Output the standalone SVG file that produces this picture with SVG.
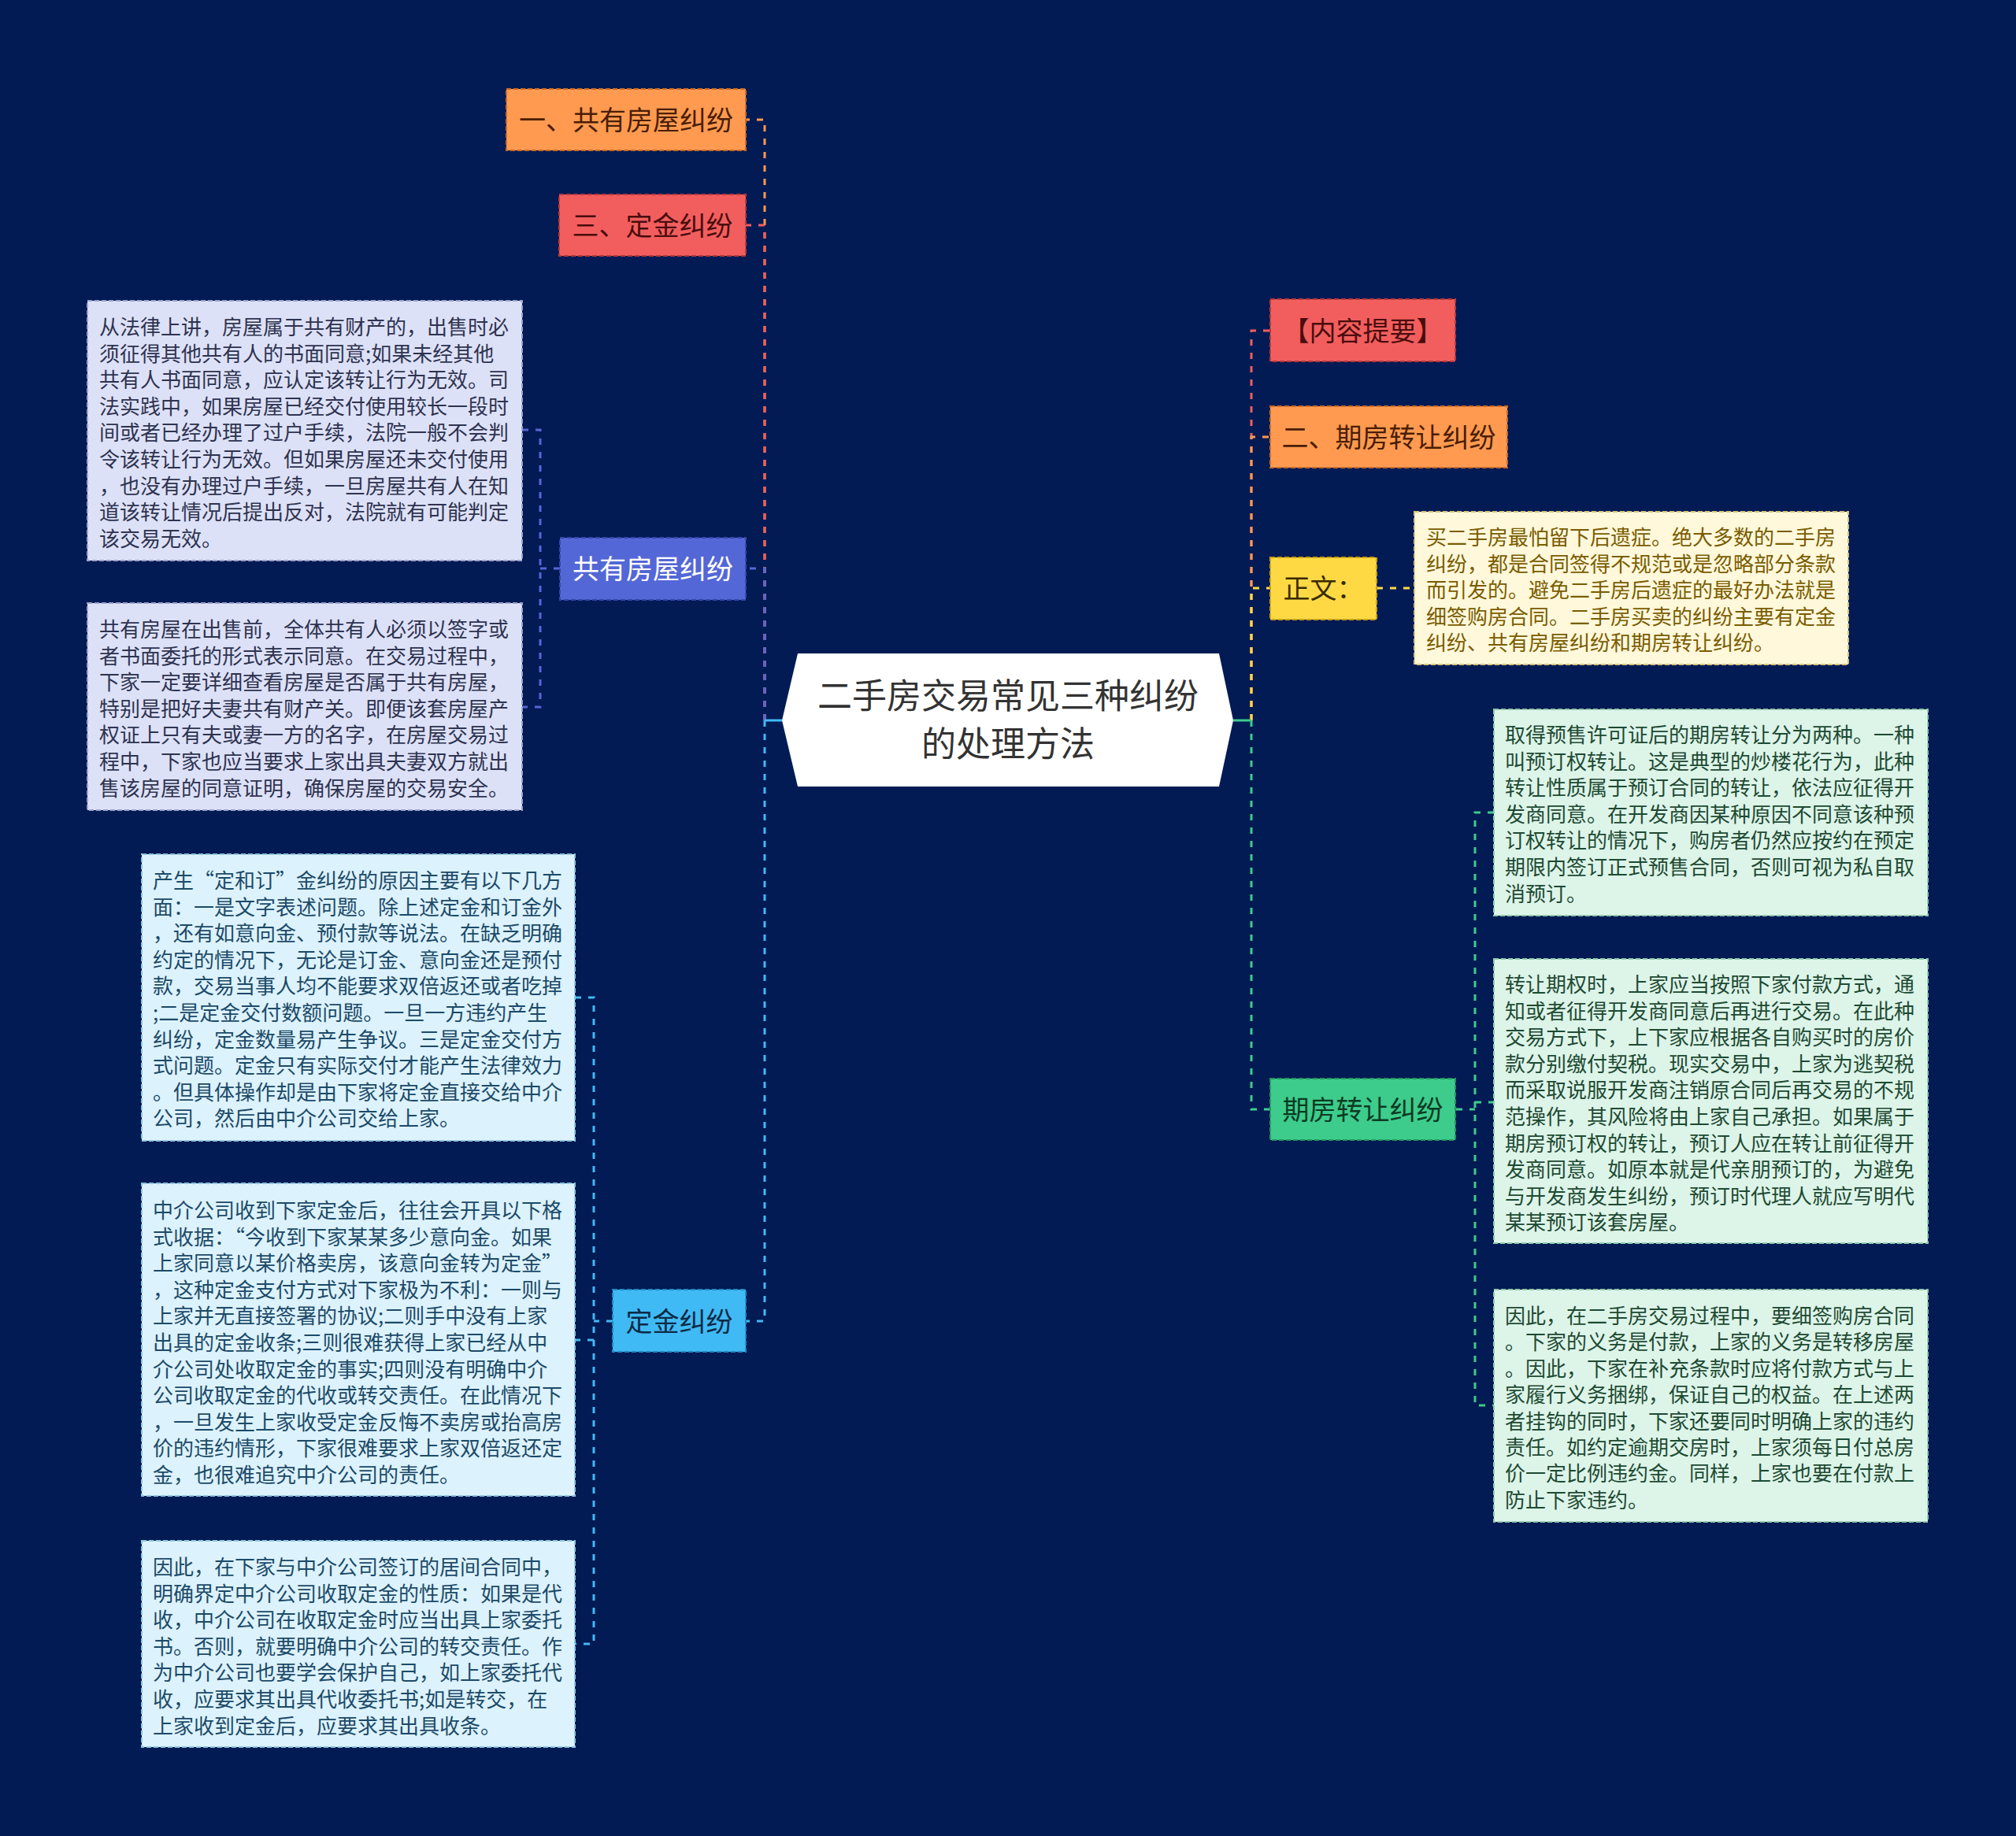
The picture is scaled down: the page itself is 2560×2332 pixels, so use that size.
<svg xmlns="http://www.w3.org/2000/svg" width="2560" height="2332" viewBox="0 0 2560 2332">
<style>
.bg{fill:#021B54}
.lbl{font-family:"Noto Sans CJK SC","Noto Sans",sans-serif;font-size:34px;text-anchor:middle}
.leaf{font-family:"Noto Sans CJK SC","Noto Sans",sans-serif;font-size:26px}
.root{font-family:"Noto Sans CJK SC","Noto Sans",sans-serif;font-size:44px;text-anchor:middle;fill:#333333}
.box{stroke-width:2;stroke-dasharray:6 3}
.c{fill:none;stroke-width:3;stroke-dasharray:8 9}
</style>
<rect class="bg" x="0" y="0" width="2560" height="2332"/>

<g id="connectors">
  <path class="c" d="M971,915 V152 H947" stroke="#FF9A50"/>
  <path class="c" d="M971,915 V286 H947" stroke="#F25E5E"/>
  <path class="c" d="M971,915 V722 H947" stroke="#5467D6"/>
  <path class="c" d="M971,915 V1678 H947" stroke="#40BAF5"/>
  <path d="M993,915 H971" stroke="#40BAF5" stroke-width="3" fill="none"/>
  <path class="c" d="M1589,915 V420 H1613" stroke="#F25E5E"/>
  <path class="c" d="M1589,915 V555 H1613" stroke="#FF9A50"/>
  <path class="c" d="M1589,915 V747 H1613" stroke="#FFD944"/>
  <path class="c" d="M1589,915 V1409 H1613" stroke="#3DCC8C"/>
  <path d="M1566,915 H1589" stroke="#3DCC8C" stroke-width="3" fill="none"/>
  <path class="c" d="M711,722 H686 M663,546 H686 V898 H663" stroke="#5467D6" stroke-width="2"/>
  <path class="c" d="M778,1678 H754 M730,1267 H754 V2088 H730 M754,1702 H730" stroke="#40BAF5" stroke-width="2"/>
  <path class="c" d="M1748,747 H1796" stroke="#FFD944" stroke-width="2"/>
  <path class="c" d="M1849,1409 H1873 M1897,1032 H1873 V1785 H1897 M1873,1400 H1897" stroke="#3DCC8C" stroke-width="2"/>
</g>

<g id="root">
  <polygon points="1013,830 1548,830 1566,915 1548,999 1013,999 993,915" fill="#FFFFFF"/>
  <text class="root"><tspan x="1280" y="900">二手房交易常见三种纠纷</tspan><tspan x="1280" y="961">的处理方法</tspan></text>
</g>

<g id="n-yi">
  <rect class="box" x="643" y="113" width="304" height="78" fill="#FF9A50" stroke="#C86A28"/>
  <text class="lbl" x="795" y="165" fill="#4A1E05">一、共有房屋纠纷</text>
</g>
<g id="n-san">
  <rect class="box" x="710" y="247" width="237" height="78" fill="#F25E5E" stroke="#B83838"/>
  <text class="lbl" x="828.5" y="299" fill="#4A0D0D">三、定金纠纷</text>
</g>
<g id="n-gongyou">
  <rect class="box" x="711" y="683" width="236" height="79" fill="#5467D6" stroke="#3546A8"/>
  <text class="lbl" x="829" y="735" fill="#FFFFFF">共有房屋纠纷</text>
</g>
<g id="n-dingjin">
  <rect class="box" x="778" y="1638" width="169" height="79" fill="#40BAF5" stroke="#2288C0"/>
  <text class="lbl" x="862.5" y="1691" fill="#0D2A45">定金纠纷</text>
</g>
<g id="n-tiyao">
  <rect class="box" x="1613" y="380" width="235" height="79" fill="#F25E5E" stroke="#B83838"/>
  <text class="lbl" x="1730.5" y="433" fill="#4A0D0D">【内容提要】</text>
</g>
<g id="n-er">
  <rect class="box" x="1613" y="516" width="301" height="78" fill="#FF9A50" stroke="#C86A28"/>
  <text class="lbl" x="1763.5" y="568" fill="#4A1E05">二、期房转让纠纷</text>
</g>
<g id="n-zhengwen">
  <rect class="box" x="1613" y="708" width="135" height="79" fill="#FFD944" stroke="#C8A010"/>
  <text class="lbl" x="1680.5" y="760" fill="#3A2C00">正文：</text>
</g>
<g id="n-qifang">
  <rect class="box" x="1613" y="1370" width="235" height="78" fill="#3DCC8C" stroke="#22985E"/>
  <text class="lbl" x="1730.5" y="1422" fill="#0B3A22">期房转让纠纷</text>
</g>

<g id="leaf-gy1">
  <rect class="box" x="111" y="382" width="552" height="330" fill="#DDE1F7" stroke="#9AA2CC"/>
  <text class="leaf" fill="#2E3350">
    <tspan x="126" y="425">从法律上讲，房屋属于共有财产的，出售时必</tspan>
    <tspan x="126" y="458.6">须征得其他共有人的书面同意;如果未经其他</tspan>
    <tspan x="126" y="492.2">共有人书面同意，应认定该转让行为无效。司</tspan>
    <tspan x="126" y="525.8">法实践中，如果房屋已经交付使用较长一段时</tspan>
    <tspan x="126" y="559.4">间或者已经办理了过户手续，法院一般不会判</tspan>
    <tspan x="126" y="593">令该转让行为无效。但如果房屋还未交付使用</tspan>
    <tspan x="126" y="626.6">，也没有办理过户手续，一旦房屋共有人在知</tspan>
    <tspan x="126" y="660.2">道该转让情况后提出反对，法院就有可能判定</tspan>
    <tspan x="126" y="693.8">该交易无效。</tspan>
  </text>
</g>
<g id="leaf-gy2">
  <rect class="box" x="111" y="766" width="552" height="263" fill="#DDE1F7" stroke="#9AA2CC"/>
  <text class="leaf" fill="#2E3350">
    <tspan x="126" y="809">共有房屋在出售前，全体共有人必须以签字或</tspan>
    <tspan x="126" y="842.6">者书面委托的形式表示同意。在交易过程中，</tspan>
    <tspan x="126" y="876.2">下家一定要详细查看房屋是否属于共有房屋，</tspan>
    <tspan x="126" y="909.8">特别是把好夫妻共有财产关。即便该套房屋产</tspan>
    <tspan x="126" y="943.4">权证上只有夫或妻一方的名字，在房屋交易过</tspan>
    <tspan x="126" y="977">程中，下家也应当要求上家出具夫妻双方就出</tspan>
    <tspan x="126" y="1010.6">售该房屋的同意证明，确保房屋的交易安全。</tspan>
  </text>
</g>

<g id="leaf-dj1">
  <rect class="box" x="180" y="1085" width="550" height="364" fill="#DCF2FC" stroke="#8EC4DE"/>
  <text class="leaf" fill="#1C4A68">
    <tspan x="194" y="1128">产生“定和订”金纠纷的原因主要有以下几方</tspan>
    <tspan x="194" y="1161.6">面：一是文字表述问题。除上述定金和订金外</tspan>
    <tspan x="194" y="1195.2">，还有如意向金、预付款等说法。在缺乏明确</tspan>
    <tspan x="194" y="1228.8">约定的情况下，无论是订金、意向金还是预付</tspan>
    <tspan x="194" y="1262.4">款，交易当事人均不能要求双倍返还或者吃掉</tspan>
    <tspan x="194" y="1296">;二是定金交付数额问题。一旦一方违约产生</tspan>
    <tspan x="194" y="1329.6">纠纷，定金数量易产生争议。三是定金交付方</tspan>
    <tspan x="194" y="1363.2">式问题。定金只有实际交付才能产生法律效力</tspan>
    <tspan x="194" y="1396.8">。但具体操作却是由下家将定金直接交给中介</tspan>
    <tspan x="194" y="1430.4">公司，然后由中介公司交给上家。</tspan>
  </text>
</g>
<g id="leaf-dj2">
  <rect class="box" x="180" y="1503" width="550" height="397" fill="#DCF2FC" stroke="#8EC4DE"/>
  <text class="leaf" fill="#1C4A68">
    <tspan x="194" y="1547">中介公司收到下家定金后，往往会开具以下格</tspan>
    <tspan x="194" y="1580.6">式收据：“今收到下家某某多少意向金。如果</tspan>
    <tspan x="194" y="1614.2">上家同意以某价格卖房，该意向金转为定金”</tspan>
    <tspan x="194" y="1647.8">，这种定金支付方式对下家极为不利：一则与</tspan>
    <tspan x="194" y="1681.4">上家并无直接签署的协议;二则手中没有上家</tspan>
    <tspan x="194" y="1715">出具的定金收条;三则很难获得上家已经从中</tspan>
    <tspan x="194" y="1748.6">介公司处收取定金的事实;四则没有明确中介</tspan>
    <tspan x="194" y="1782.2">公司收取定金的代收或转交责任。在此情况下</tspan>
    <tspan x="194" y="1815.8">，一旦发生上家收受定金反悔不卖房或抬高房</tspan>
    <tspan x="194" y="1849.4">价的违约情形，下家很难要求上家双倍返还定</tspan>
    <tspan x="194" y="1883">金，也很难追究中介公司的责任。</tspan>
  </text>
</g>
<g id="leaf-dj3">
  <rect class="box" x="180" y="1957" width="550" height="262" fill="#DCF2FC" stroke="#8EC4DE"/>
  <text class="leaf" fill="#1C4A68">
    <tspan x="194" y="2000">因此，在下家与中介公司签订的居间合同中，</tspan>
    <tspan x="194" y="2033.6">明确界定中介公司收取定金的性质：如果是代</tspan>
    <tspan x="194" y="2067.2">收，中介公司在收取定金时应当出具上家委托</tspan>
    <tspan x="194" y="2100.8">书。否则，就要明确中介公司的转交责任。作</tspan>
    <tspan x="194" y="2134.4">为中介公司也要学会保护自己，如上家委托代</tspan>
    <tspan x="194" y="2168">收，应要求其出具代收委托书;如是转交，在</tspan>
    <tspan x="194" y="2201.6">上家收到定金后，应要求其出具收条。</tspan>
  </text>
</g>

<g id="leaf-zw">
  <rect class="box" x="1796" y="650" width="551" height="194" fill="#FFF8DB" stroke="#D8C27A"/>
  <text class="leaf" fill="#7A5C00">
    <tspan x="1811" y="692">买二手房最怕留下后遗症。绝大多数的二手房</tspan>
    <tspan x="1811" y="725.6">纠纷，都是合同签得不规范或是忽略部分条款</tspan>
    <tspan x="1811" y="759.2">而引发的。避免二手房后遗症的最好办法就是</tspan>
    <tspan x="1811" y="792.8">细签购房合同。二手房买卖的纠纷主要有定金</tspan>
    <tspan x="1811" y="826.4">纠纷、共有房屋纠纷和期房转让纠纷。</tspan>
  </text>
</g>

<g id="leaf-qf1">
  <rect class="box" x="1897" y="901" width="551" height="262" fill="#DDF4E9" stroke="#8CCBAA"/>
  <text class="leaf" fill="#1D4A32">
    <tspan x="1911" y="943">取得预售许可证后的期房转让分为两种。一种</tspan>
    <tspan x="1911" y="976.6">叫预订权转让。这是典型的炒楼花行为，此种</tspan>
    <tspan x="1911" y="1010.2">转让性质属于预订合同的转让，依法应征得开</tspan>
    <tspan x="1911" y="1043.8">发商同意。在开发商因某种原因不同意该种预</tspan>
    <tspan x="1911" y="1077.4">订权转让的情况下，购房者仍然应按约在预定</tspan>
    <tspan x="1911" y="1111">期限内签订正式预售合同，否则可视为私自取</tspan>
    <tspan x="1911" y="1144.6">消预订。</tspan>
  </text>
</g>
<g id="leaf-qf2">
  <rect class="box" x="1897" y="1218" width="551" height="361" fill="#DDF4E9" stroke="#8CCBAA"/>
  <text class="leaf" fill="#1D4A32">
    <tspan x="1911" y="1260">转让期权时，上家应当按照下家付款方式，通</tspan>
    <tspan x="1911" y="1293.6">知或者征得开发商同意后再进行交易。在此种</tspan>
    <tspan x="1911" y="1327.2">交易方式下，上下家应根据各自购买时的房价</tspan>
    <tspan x="1911" y="1360.8">款分别缴付契税。现实交易中，上家为逃契税</tspan>
    <tspan x="1911" y="1394.4">而采取说服开发商注销原合同后再交易的不规</tspan>
    <tspan x="1911" y="1428">范操作，其风险将由上家自己承担。如果属于</tspan>
    <tspan x="1911" y="1461.6">期房预订权的转让，预订人应在转让前征得开</tspan>
    <tspan x="1911" y="1495.2">发商同意。如原本就是代亲朋预订的，为避免</tspan>
    <tspan x="1911" y="1528.8">与开发商发生纠纷，预订时代理人就应写明代</tspan>
    <tspan x="1911" y="1562.4">某某预订该套房屋。</tspan>
  </text>
</g>
<g id="leaf-qf3">
  <rect class="box" x="1897" y="1638" width="551" height="295" fill="#DDF4E9" stroke="#8CCBAA"/>
  <text class="leaf" fill="#1D4A32">
    <tspan x="1911" y="1681">因此，在二手房交易过程中，要细签购房合同</tspan>
    <tspan x="1911" y="1714.4">。下家的义务是付款，上家的义务是转移房屋</tspan>
    <tspan x="1911" y="1747.8">。因此，下家在补充条款时应将付款方式与上</tspan>
    <tspan x="1911" y="1781.2">家履行义务捆绑，保证自己的权益。在上述两</tspan>
    <tspan x="1911" y="1814.6">者挂钩的同时，下家还要同时明确上家的违约</tspan>
    <tspan x="1911" y="1848">责任。如约定逾期交房时，上家须每日付总房</tspan>
    <tspan x="1911" y="1881.4">价一定比例违约金。同样，上家也要在付款上</tspan>
    <tspan x="1911" y="1914.8">防止下家违约。</tspan>
  </text>
</g>
</svg>
